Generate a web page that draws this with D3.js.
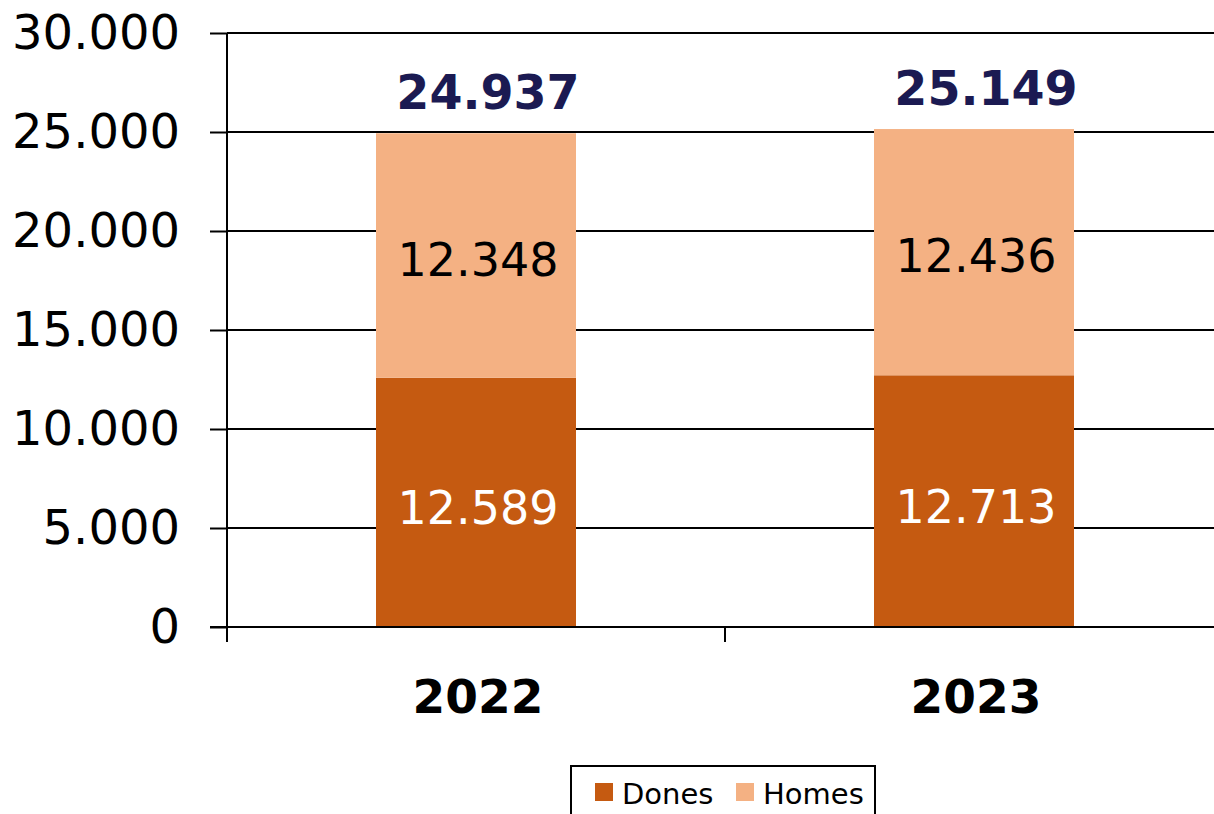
<!DOCTYPE html>
<html><head><meta charset="utf-8">
<script src="https://cdn.jsdelivr.net/npm/d3@7"></script>
<style>body{margin:0;background:#fff}svg{display:block}text{font-family:"DejaVu Sans",Verdana,sans-serif}</style>
</head><body>
<svg id="c" width="1214" height="814"></svg>
<script>
const categories = ["2022", "2023"];
const seriesNames = ["Dones", "Homes"];
const dones = [12589, 12713];
const homes = [12348, 12436];
const totals = [24937, 25149];
const yTicks = [0, 5000, 10000, 15000, 20000, 25000, 30000];
const colors = ["#C55A11", "#F4B183"];

const svg = d3.select("#c");
const x0 = 227, x1 = 1223, yTop = 33, yBot = 627;
const x = d3.scaleBand().domain(categories).range([x0, x1]).paddingInner(0).paddingOuter(0);
const y = d3.scaleLinear().domain([0, 30000]).range([yBot, yTop]);
const fmt = v => d3.format(",")(v).replace(/,/g, ".");
const barW = 200;

// gridlines
svg.append("g").selectAll("line").data(yTicks.filter(d => d > 0)).join("line")
  .attr("x1", x0).attr("x2", 1214).attr("y1", d => y(d)).attr("y2", d => y(d))
  .attr("stroke", "#000").attr("stroke-width", 2);

// y axis
const ya = svg.append("g").attr("transform", `translate(${x0},0)`)
  .call(d3.axisLeft(y).tickValues(yTicks).tickFormat(fmt).tickSize(17).tickPadding(30));
ya.select(".domain").attr("stroke", "#000").attr("stroke-width", 2).attr("d", `M0,${yTop}V${yBot}`);
ya.selectAll(".tick line").attr("stroke-width", 2);
ya.selectAll(".tick text").attr("font-size", 48).attr("fill", "#000").attr("font-family", "DejaVu Sans, Verdana, sans-serif");

// stacked bars
const stackData = categories.map((c, i) => ({cat: c, Dones: dones[i], Homes: homes[i]}));
const stack = d3.stack().keys(seriesNames)(stackData);
svg.append("g").selectAll("g").data(stack).join("g").attr("fill", (d, i) => colors[i])
  .selectAll("rect").data(d => d).join("rect")
  .attr("x", d => x(d.data.cat) + x.bandwidth() / 2 - barW / 2)
  .attr("width", barW)
  .attr("y", d => y(d[1]))
  .attr("height", d => y(d[0]) - y(d[1]));

// segment labels
stack.forEach((s, si) => {
  svg.append("g").selectAll("text").data(s).join("text")
    .attr("x", d => x(d.data.cat) + x.bandwidth() / 2 + 2)
    .attr("y", d => (y(d[0]) + y(d[1])) / 2 + (si === 0 ? 6 : 4))
    .attr("dy", "0.35em")
    .attr("text-anchor", "middle").attr("font-size", 46)
    .attr("fill", si === 0 ? "#fff" : "#000")
    .text(d => fmt(d.data[seriesNames[si]]));
});

// totals
svg.append("g").selectAll("text").data(categories).join("text")
  .attr("x", d => x(d) + x.bandwidth() / 2 + 12)
  .attr("y", (d, i) => y(totals[i]) - 24)
  .attr("text-anchor", "middle").attr("font-size", 47.5).attr("font-weight", "bold")
  .attr("fill", "#1B1A52")
  .text((d, i) => fmt(totals[i]));

// x axis
const xa = svg.append("g").attr("transform", `translate(0,${yBot})`);
xa.append("line").attr("x1", 210).attr("x2", 1214).attr("y1", 0).attr("y2", 0).attr("stroke", "#000").attr("stroke-width", 2);
xa.selectAll("line.t").data(categories.concat(["end"])).join("line").attr("class", "t")
  .attr("x1", (d, i) => x0 + i * x.bandwidth()).attr("x2", (d, i) => x0 + i * x.bandwidth())
  .attr("y1", 0).attr("y2", 15).attr("stroke", "#000").attr("stroke-width", 2);
xa.selectAll("text").data(categories).join("text")
  .attr("x", d => x(d) + x.bandwidth() / 2 + 2).attr("y", 86)
  .attr("text-anchor", "middle").attr("font-size", 47).attr("font-weight", "bold").attr("fill", "#000")
  .text(d => d);

// legend
const lg = svg.append("g");
lg.append("rect").attr("x", 571).attr("y", 766).attr("width", 304).attr("height", 70)
  .attr("fill", "#fff").attr("stroke", "#000").attr("stroke-width", 2);
const items = [{n: seriesNames[0], c: colors[0], x: 595}, {n: seriesNames[1], c: colors[1], x: 736}];
items.forEach(it => {
  lg.append("rect").attr("x", it.x).attr("y", 783).attr("width", 18).attr("height", 18).attr("fill", it.c);
  lg.append("text").attr("x", it.x + 27).attr("y", 804).attr("font-size", 29).attr("fill", "#000").text(it.n);
});
</script>
</body></html>
